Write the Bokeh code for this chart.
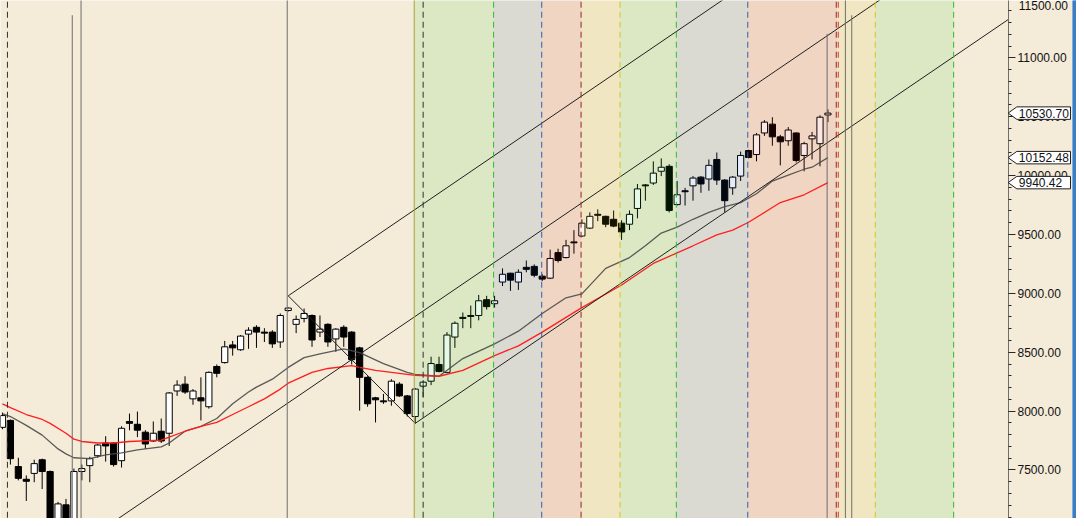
from bokeh.plotting import figure
from bokeh.layouts import row
from bokeh.models import (Range1d, SingleIntervalTicker, PrintfTickFormatter, ColumnDataSource)
from bokeh.core.properties import value
from bokeh.embed import file_html
from bokeh.resources import INLINE

# ---------------- data ----------------
opens = [7862, 7921, 7529, 7421, 7471, 7587, 7487, 7060, 7204, 7050,
         7487, 7537, 7621, 7729, 7729, 7579, 7912, 7888, 7821, 7746,
         7829, 7812, 8171, 8229, 8104, 8113, 8037, 8379, 8412, 8562,
         8521, 8654, 8712, 8671, 8671, 8587, 8854, 8737, 8787, 8812,
         8671, 8737, 8613, 8712, 8671, 8537, 8287, 8113, 8087, 8087,
         8229, 8129, 7954, 8212, 8254, 8396, 8329, 8629, 8796, 8812,
         8812, 8946, 8912, 9096, 9171, 9096, 9221, 9229, 9146, 9129,
         9346, 9304, 9437, 9487, 9554, 9671, 9654, 9629, 9596, 9587,
         9721, 9921, 9937, 10037, 10079, 9754, 9871, 9913, 9987, 9971,
         10137, 9962, 9896, 9996, 10213, 10179, 10362, 10437, 10329, 10296,
         10362, 10171, 10312, 10271, 10515]
highs = [7987, 7929, 7604, 7454, 7587, 7596, 7496, 7229, 7254, 7512,
         7546, 7612, 7721, 7787, 7737, 7871, 7979, 7996, 7838, 7912,
         7937, 8162, 8262, 8296, 8187, 8287, 8337, 8396, 8596, 8596,
         8646, 8712, 8729, 8704, 8687, 8829, 8880, 8812, 8871, 8821,
         8812, 8746, 8704, 8729, 8679, 8546, 8296, 8121, 8146, 8271,
         8246, 8137, 8196, 8262, 8462, 8462, 8671, 8762, 8837, 8896,
         8987, 8979, 8979, 9212, 9175, 9204, 9279, 9246, 9163, 9371,
         9379, 9454, 9537, 9629, 9688, 9713, 9660, 9704, 9621, 9704,
         9929, 9929, 10121, 10146, 10096, 9954, 9896, 9996, 9996, 10137,
         10196, 9970, 9996, 10204, 10220, 10362, 10471, 10496, 10346, 10412,
         10368, 10287, 10371, 10512, 10562]
lows = [7846, 7546, 7412, 7237, 7396, 7338, 6950, 7000, 7000, 7000,
        7412, 7396, 7604, 7571, 7529, 7521, 7837, 7779, 7679, 7740,
        7729, 7704, 8129, 8146, 8054, 7921, 8021, 8287, 8404, 8471,
        8512, 8529, 8537, 8587, 8537, 8537, 8846, 8662, 8754, 8546,
        8629, 8546, 8504, 8546, 8396, 8004, 8037, 7904, 8062, 8046,
        8121, 7954, 7896, 8121, 8221, 8329, 8321, 8537, 8704, 8704,
        8771, 8862, 8879, 9062, 9021, 9029, 9179, 9137, 9104, 9121,
        9262, 9296, 9337, 9479, 9546, 9613, 9562, 9562, 9454, 9537,
        9637, 9787, 9921, 9996, 9687, 9746, 9746, 9787, 9854, 9871,
        9921, 9687, 9837, 9954, 10146, 10121, 10337, 10254, 10087, 10254,
        10112, 10037, 10137, 10079, 10454]
closes = [7962, 7596, 7429, 7404, 7554, 7487, 7020, 7212, 7070, 7487,
          7512, 7596, 7712, 7704, 7546, 7854, 7896, 7838, 7721, 7812,
          7746, 8154, 8221, 8162, 8171, 8087, 8329, 8321, 8546, 8537,
          8637, 8687, 8671, 8662, 8571, 8812, 8875, 8779, 8829, 8604,
          8696, 8587, 8696, 8629, 8437, 8287, 8062, 8096, 8079, 8254,
          8129, 7979, 8187, 8246, 8404, 8337, 8646, 8746, 8787, 8804,
          8937, 8887, 8937, 9162, 9112, 9179, 9204, 9154, 9121, 9296,
          9279, 9404, 9429, 9596, 9654, 9663, 9587, 9571, 9521, 9671,
          9887, 9913, 10021, 10071, 9704, 9837, 9863, 9979, 9929, 10087,
          9962, 9787, 9987, 10171, 10154, 10346, 10454, 10329, 10287, 10387,
          10129, 10271, 10337, 10496, 10530.70]

# moving averages (at these bar numbers)
ma_long_idx = [0, 1, 3, 5, 6, 8, 9, 10, 12, 14, 16, 20, 21, 23, 25, 27, 29, 31, 33, 35,
               36, 39, 41, 44, 45, 47, 50, 52, 55, 58, 62, 65, 68, 71, 73, 78, 82, 87,
               90, 92, 94, 98, 101, 104]
ma_long_val = [8062, 8029, 7971, 7929, 7896, 7812, 7762, 7742, 7729, 7729, 7742, 7754,
               7779, 7829, 7871, 7904, 7971, 8037, 8104, 8187, 8237, 8329, 8362, 8387,
               8371, 8346, 8321, 8304, 8296, 8346, 8471, 8554, 8671, 8796, 8879, 9071,
               9254, 9404, 9496, 9537, 9604, 9771, 9837, 9940.42]
ma_short_idx = [0, 1, 3, 5, 7, 8, 9, 11, 13, 15, 17, 20, 21, 23, 25, 27, 29, 31, 32, 34,
                36, 38, 40, 43, 45, 48, 51, 52, 55, 58, 62, 65, 68, 71, 73, 76, 79, 81,
                83, 85, 87, 89, 91, 93, 95, 97, 99, 101, 102, 104]
ma_short_val = [7979, 7954, 7879, 7796, 7679, 7637, 7604, 7596, 7629, 7646, 7671, 7696,
                7729, 7829, 7871, 7937, 8062, 8162, 8204, 8271, 8371, 8454, 8487, 8529,
                8496, 8404, 8329, 8312, 8296, 8446, 8571, 8679, 8829, 8962, 8996, 9212,
                9304, 9404, 9512, 9562, 9629, 9687, 9737, 9771, 9846, 9954, 10004, 10054,
                10071, 10152.48]

# channel pivots (bar, price) and slope per bar
pivot_bar = [36, 52]
pivot_price = [8979, 7896]
channel_slope = 45.9

# time-cycle zones (bar boundaries) and zone kinds
zone_edges = [51.875, 61.875, 67.94, 72.9, 77.8, 84.9, 93.9, 105.15, 109.96, 119.84]
zone_kind = ["green", "gray", "salmon", "yellow", "green", "gray", "salmon", "yellow", "green"]

# vertical markers (bar positions)
solid_marks = [8.79, 9.9, 35.875, 103.9, 106.2, 107.0]
solid_tops = [11362, 11600, 11600, 11204, 11600, 11362]
dash_marks = [0.625, 53.0, 61.875, 67.94, 72.9, 77.8, 84.9, 93.9, 105.05, 105.3, 109.96, 119.84]
dash_kind = ["black", "black", "green", "blue", "darkred", "yellow", "green", "blue",
             "darkred", "red", "yellow", "green"]

# last-value tags and the top tick label
tag_values = [10530.70, 10152.48, 9940.42]
tag_texts = ["10530.70", "10152.48", "9940.42"]
top_tick_text = "11500.00"

# ---------------- styling ----------------
BEIGE = "#F4EBD9"
ZONE_COL = {"green": "#0EC311", "gray": "#04419D", "salmon": "#C20F00", "yellow": "#D6B900"}
DASH_COL = {"black": "#303030", "green": "#2DBE2D", "blue": "#3A5BA8", "darkred": "#8E2A2A",
            "red": "#E03030", "yellow": "#D2C81E"}
FONT = "Liberation Sans"
Y_TOP = 11487

p = figure(frame_width=1008, frame_height=518,
           x_range=Range1d(-0.25, 126.75), y_range=Range1d(7088, Y_TOP),
           y_axis_location="right", toolbar_location=None, output_backend="svg",
           min_border_left=0, min_border_top=0, min_border_bottom=0, min_border_right=64,
           background_fill_color=BEIGE, border_fill_color=BEIGE, outline_line_color=None)
p.xaxis.visible = False
p.grid.visible = False

bars = list(range(len(opens)))
src = ColumnDataSource(dict(
    x=bars, h=highs, l=lows,
    top=[max(o, c) for o, c in zip(opens, closes)],
    bottom=[min(o, c) for o, c in zip(opens, closes)],
    fill=["white" if c >= o else "black" for o, c in zip(opens, closes)],
))
p.segment(x0="x", y0="h", x1="x", y1="l", source=src, line_color="black", line_width=1)
p.vbar(x="x", width=0.78, top="top", bottom="bottom", source=src,
       fill_color="fill", line_color="black", line_width=1)

# translucent zones over the candles
p.quad(left=zone_edges[:-1], right=zone_edges[1:], bottom=6500, top=12000,
       fill_color=[ZONE_COL[k] for k in zone_kind], fill_alpha=0.1, line_color=None)

# moving averages
p.line(ma_short_idx, ma_short_val, line_color="#4A4A4A", line_width=1.3, line_alpha=0.9)
p.line(ma_long_idx, ma_long_val, line_color="#FF1E1E", line_width=1.3)

# channel
far = 140
a_b, b_b = pivot_bar
a_p, b_p = pivot_price
m_b, m_p = (a_b + b_b) / 2, (a_p + b_p) / 2
p.line([a_b, b_b], [a_p, b_p], line_color="#202020", line_width=1)
p.line([a_b, far], [a_p, a_p + channel_slope * (far - a_b)], line_color="#202020", line_width=1)
p.line([b_b, far], [b_p, b_p + channel_slope * (far - b_b)], line_color="#202020", line_width=1)
p.line([0, far], [m_p - channel_slope * m_b, m_p + channel_slope * (far - m_b)],
       line_color="#202020", line_width=1)

# vertical markers
p.segment(x0=solid_marks, x1=solid_marks, y0=6500, y1=solid_tops,
          line_color="#6E6E6E", line_width=1)
p.segment(x0=[51.875], x1=[51.875], y0=6500, y1=12000, line_color="#A8A040", line_width=1)
p.segment(x0=dash_marks, x1=dash_marks, y0=6500, y1=12000,
          line_color=[DASH_COL[k] for k in dash_kind], line_width=1, line_dash="6 4")

# axis
ax = p.yaxis[0]
ax.ticker = SingleIntervalTicker(interval=500, num_minor_ticks=5)
ax.formatter = PrintfTickFormatter(format="%.2f")
ax.axis_line_color = "#6E6E6E"
ax.major_tick_in = 0
ax.major_tick_out = 7
ax.minor_tick_in = 0
ax.minor_tick_out = 3
ax.major_tick_line_color = "#2A2A2A"
ax.minor_tick_line_color = "#2A2A2A"
ax.major_label_text_font = FONT
ax.major_label_text_font_size = "12px"
ax.major_label_text_color = "#111111"
ax.major_label_standoff = 2

# price tags drawn in the overlay level so they sit over the axis area
half = 53
tip_x, box_l, box_r, txt_x = 126.7, 127.8, 134.56, 128.05
p.patches(xs=[[tip_x, box_l, box_r, box_r, box_l] for _ in tag_values],
          ys=[[v, v + half, v + half, v - half, v - half] for v in tag_values],
          fill_color="white", line_color="#202020", line_width=1, level="overlay")
p.text(x=[txt_x] * len(tag_values), y=tag_values, text=tag_texts,
       text_font=value(FONT), text_font_size=value("12px"), text_color="#111111",
       text_baseline="middle", text_align="left", level="overlay")
p.text(x=[txt_x], y=[Y_TOP], text=[top_tick_text],
       text_font=value(FONT), text_font_size=value("12px"), text_color="#111111",
       text_baseline="top", text_align="left", level="overlay")

# right edge stripe
BLUE = "#3C7DC4"
s = figure(width=4, height=518, toolbar_location=None, output_backend="svg",
           min_border=0, background_fill_color=BLUE, border_fill_color=BLUE,
           outline_line_color=None, x_range=Range1d(0, 1), y_range=Range1d(0, 1))
s.axis.visible = False
s.grid.visible = False
s.quad(left=[0], right=[1], bottom=[0], top=[1], fill_color=BLUE, line_color=None)

layout = row(p, s)
open("out.html", "w").write(file_html(layout, INLINE))
